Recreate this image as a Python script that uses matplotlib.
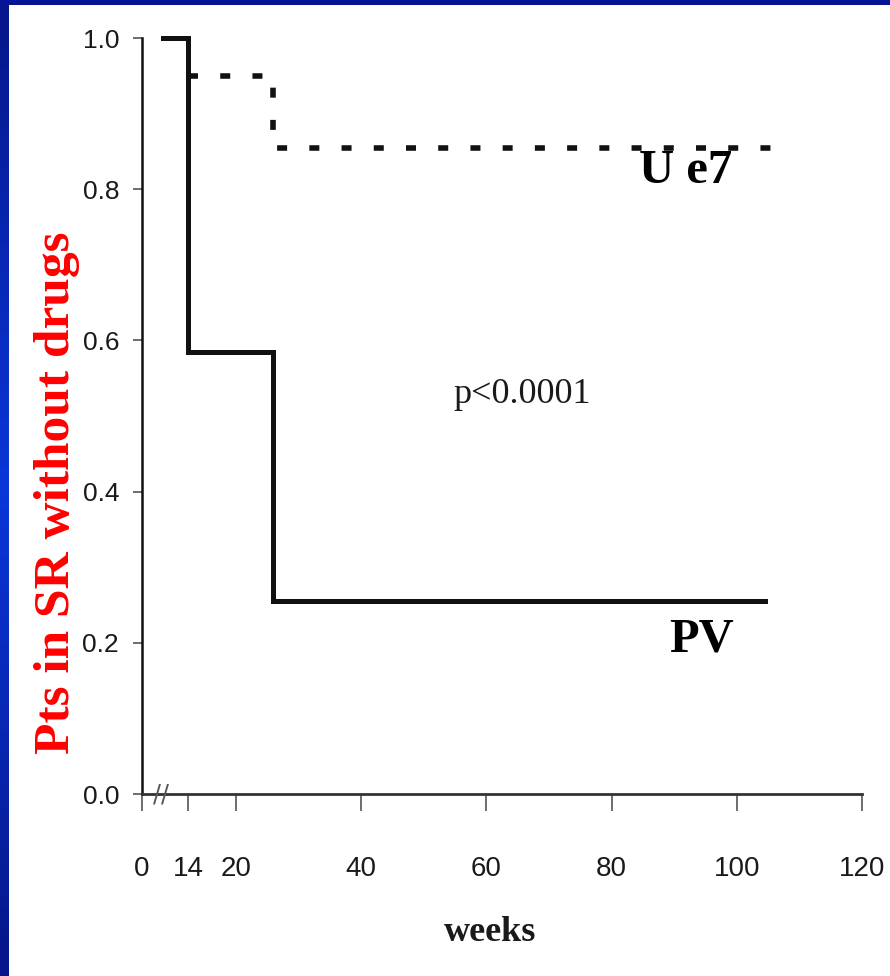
import numpy as np
import matplotlib
matplotlib.use("Agg")
import matplotlib.pyplot as plt
from matplotlib.colors import LinearSegmentedColormap

# ---- data ----
pv_weeks = [6.4, 14, 26, 104.5]
pv_surv = [1.0, 0.585, 0.255, 0.255]
ue7_weeks = [14, 26, 105.4]
ue7_surv = [0.95, 0.855, 0.855]
xtick_vals = [0, 14, 20, 40, 60, 80, 100, 120]
xtick_labels = ["0", "14", "20", "40", "60", "80", "100", "120"]
ytick_vals = [0.0, 0.2, 0.4, 0.6, 0.8, 1.0]
ytick_labels = ["0.0", "0.2", "0.4", "0.6", "0.8", "1.0"]

# broken-axis mapping (weeks -> display units)
_w = [0, 14, 20, 1000]
_d = [5, 12.4, 20, 1000]
def fwd(x):
    return np.interp(x, _w, _d)
def inv(x):
    return np.interp(x, _d, _w)

fig = plt.figure(figsize=(8.9, 9.76), dpi=100)
fig.patch.set_facecolor("white")

# blue slide frame (left and top)
bax = fig.add_axes([0, 0, 9/890, 1])
grad = np.concatenate([np.linspace(0, 1, 50), np.linspace(1, 0, 50)])[:, None]
cm = LinearSegmentedColormap.from_list("b", ["#06168a", "#0a36d8"])
bax.imshow(grad, aspect="auto", cmap=cm, extent=[0, 1, 0, 1])
bax.axis("off")
tax = fig.add_axes([0, 1 - 5/976, 1, 5/976])
tax.axis("off")
tax.add_patch(plt.Rectangle((0, 0), 1, 1, color="#041495", transform=tax.transAxes))

left = 142/890
right = 862/890
bottom = 1 - 794/976
top = 1 - 38/976
ax = fig.add_axes([left, bottom, right - left, top - bottom])
ax.set_xscale("function", functions=(fwd, inv))
ax.set_xlim(0, 120)
ax.set_ylim(0, 1)

ax.step(pv_weeks, pv_surv, where="post", color="#111111", lw=3.6,
        solid_joinstyle="miter", clip_on=False)
ax.step(ue7_weeks, ue7_surv, where="post", color="#111111", lw=4.0,
        linestyle=(0, (1.8, 4.0)), clip_on=False)

for s in ["top", "right"]:
    ax.spines[s].set_visible(False)
ax.spines["left"].set_linewidth(1.8)
ax.spines["left"].set_color("#111111")
ax.spines["bottom"].set_linewidth(2.0)
ax.spines["bottom"].set_color("#333333")

tickfont = ["Liberation Sans", "DejaVu Sans"]
ax.set_xticks(xtick_vals)
ax.set_xticklabels(xtick_labels, family=tickfont, fontsize=20, color="#1a1a1a")
ax.set_yticks(ytick_vals)
ax.set_yticklabels(ytick_labels, family=tickfont, fontsize=19, color="#1a1a1a")
ax.tick_params(axis="x", length=12, width=1.2, color="#555555", pad=33)
ax.tick_params(axis="y", length=6.5, width=1.2, color="#555555", pad=10)
ax.minorticks_off()

# axis break mark
ax.text(5.6, 0.0, "//", fontsize=17, color="#555555", ha="center", va="center",
        family="DejaVu Sans", clip_on=False)

serif = ["Liberation Serif", "DejaVu Serif"]
ax.text(84.4, 0.808, "U e7", family=serif, fontweight="bold", fontsize=35,
        ha="left", va="baseline", color="black")
ax.text(89.2, 0.188, "PV", family=serif, fontweight="bold", fontsize=35,
        ha="left", va="baseline", color="black")
ax.text(54.8, 0.517, "p<0.0001", family=serif, fontsize=26,
        ha="left", va="baseline", color="#1a1a1a")

fig.text(490/890, 1 - 941/976, "weeks", family=serif, fontweight="bold",
         fontsize=26, ha="center", va="baseline", color="#1a1a1a")
fig.text(69/890, 1 - 493/976, "Pts in SR without drugs", family=serif,
         fontweight="bold", fontsize=37, color="#ff0000", rotation=90,
         rotation_mode="anchor", ha="center", va="baseline")

fig.savefig("out.png", dpi=100, facecolor="white")
